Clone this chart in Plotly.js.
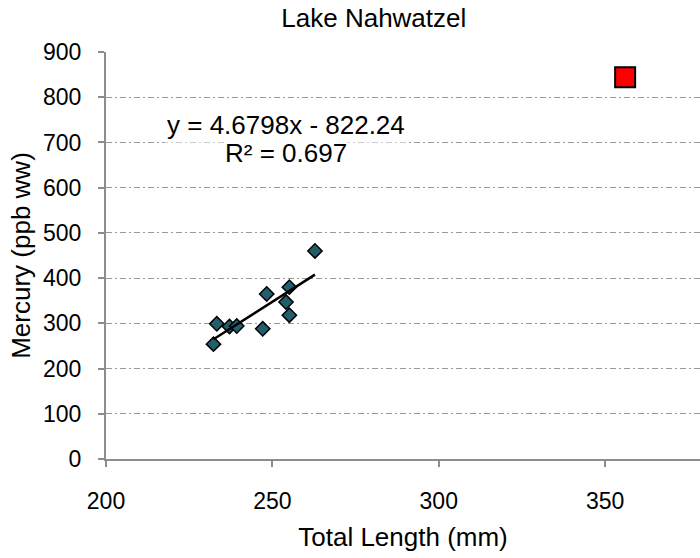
<!DOCTYPE html>
<html>
<head>
<meta charset="utf-8">
<script src="https://cdn.plot.ly/plotly-3.0.1.min.js"></script>
<style>html,body{margin:0;padding:0;background:#fff;}#chart{width:700px;height:558px;}</style>
</head>
<body>
<div id="chart"></div>
<script>
// Data
const lengthMm = [232.3, 233.3, 237.1, 239.3, 247.1, 248.3, 255.1, 254.1, 255.1, 262.8];
const mercuryPpb = [254, 299, 293, 294, 288, 365, 380, 347, 318, 460];
const outlierLength = [356];
const outlierMercury = [844];
const slope = 4.6798;
const intercept = -822.24;
const rSquared = 0.697;
const xTickVals = [200, 250, 300, 350];
const chartTitle = "Lake Nahwatzel";
const xTitle = "Total Length (mm)";
const yTitle = "Mercury (ppb ww)";

const xMin = Math.min(...lengthMm), xMax = Math.max(...lengthMm);
const trendX = [xMin, xMax];
const trendY = trendX.map(x => slope * x + intercept);

const font = "Liberation Sans, Arial, sans-serif";

const traces = [
  {x: lengthMm, y: mercuryPpb, type: "scatter", mode: "markers",
   marker: {symbol: "diamond", size: 11, color: "#235E6C", line: {color: "#000", width: 1.5}},
   showlegend: false},
  {x: trendX, y: trendY, type: "scatter", mode: "lines",
   line: {color: "#000", width: 2.5}, showlegend: false},
  {x: outlierLength, y: outlierMercury, type: "scatter", mode: "markers",
   marker: {symbol: "square", size: 20, color: "#FF0000", line: {color: "#000", width: 2}},
   showlegend: false}
];

const layout = {
  width: 700, height: 558,
  margin: {l: 106, r: 0, t: 52, b: 99},
  paper_bgcolor: "#fff", plot_bgcolor: "#fff",
  font: {family: font, color: "#000", size: 23},
  title: {text: chartTitle, x: 0.534, xref: "container", xanchor: "center",
          y: 0.968, yref: "container", yanchor: "middle", font: {size: 26, family: font}},
  xaxis: {
    range: [200, 378.5], tickvals: xTickVals, ticks: "outside", ticklen: 6, tickcolor: "#8c8c8c", tickwidth: 2,
    showline: true, linecolor: "#8c8c8c", linewidth: 2, showgrid: false, zeroline: false,
    tickfont: {size: 23}, ticklabelstandoff: 14,
    title: {text: xTitle, font: {size: 26}, standoff: 15}
  },
  yaxis: {
    range: [0, 900], dtick: 100, ticks: "outside", ticklen: 6, tickcolor: "#8c8c8c", tickwidth: 2,
    showline: true, linecolor: "#8c8c8c", linewidth: 2, zeroline: false,
    showgrid: true, gridcolor: "#999", gridwidth: 1, griddash: "6px,3px,2px,3px",
    tickfont: {size: 23}, ticklabelstandoff: 12,
    title: {text: yTitle, font: {size: 26}, standoff: 5}
  },
  annotations: [
    {x: 254.1, y: 738.6, xref: "x", yref: "y",
     text: "y = " + slope + "x - " + Math.abs(intercept),
     showarrow: false, font: {size: 26}, bgcolor: "#fff",
     xanchor: "center", yanchor: "middle", borderpad: 2},
    {x: 254.1, y: 676.8, xref: "x", yref: "y",
     text: "R² = " + rSquared,
     showarrow: false, font: {size: 26}, bgcolor: "#fff",
     xanchor: "center", yanchor: "middle", borderpad: 0}
  ]
};

Plotly.newPlot("chart", traces, layout, {displayModeBar: false, staticPlot: true});
</script>
</body>
</html>
